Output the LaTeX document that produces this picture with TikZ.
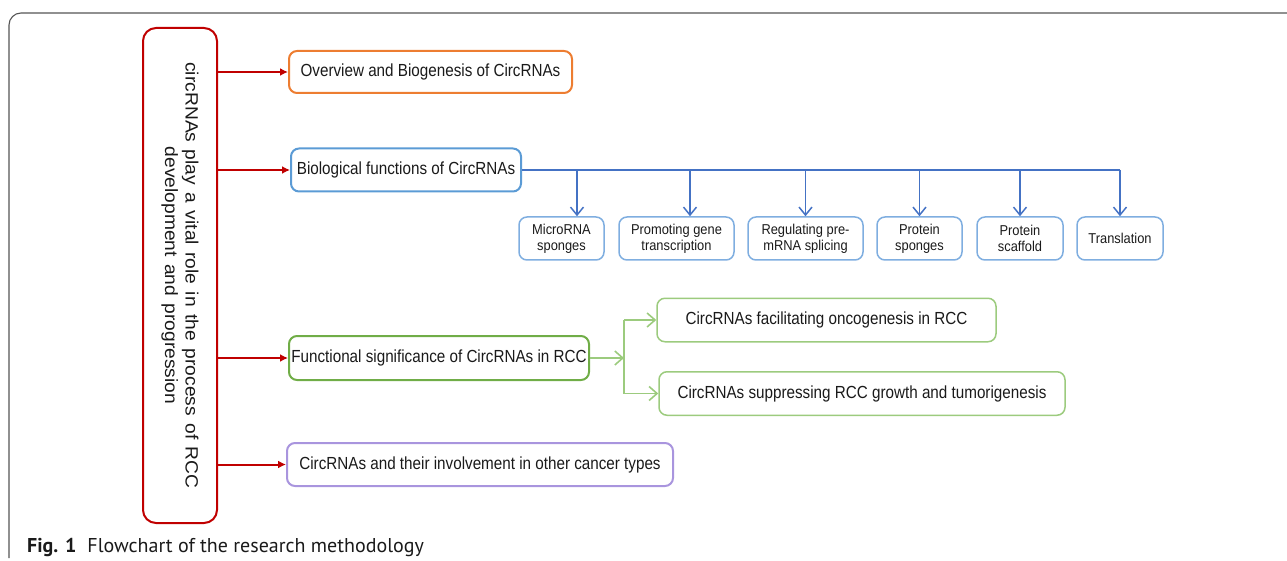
\documentclass[tikz,border=0pt]{standalone}
\usepackage{fontspec}
\setmainfont{Liberation Sans}
\newfontfamily\narrowfont[FakeStretch=0.87]{Liberation Sans}
\newfontfamily\smallfont[FakeStretch=0.9]{Liberation Sans}
\newfontfamily\widefont[FakeStretch=1.08,WordSpace=1.4]{Liberation Sans}
\newfontfamily\capfont{PT Sans}
\usetikzlibrary{arrows.meta}
\definecolor{cred}{HTML}{C00000}
\definecolor{corange}{HTML}{ED7D31}
\definecolor{cblue}{HTML}{5B9BD5}
\definecolor{clblue}{HTML}{7FAEE0}
\definecolor{carrblue}{HTML}{4472C4}
\definecolor{cgreen}{HTML}{70AD47}
\definecolor{clgreen}{HTML}{9CCB7E}
\definecolor{cpurple}{HTML}{A995DE}
\definecolor{cframe}{HTML}{555555}
\definecolor{ctext}{HTML}{1A1A1A}
\tikzset{
  bigbox/.style={draw, line width=2pt, rounded corners=8pt, inner sep=0pt, text=ctext,
    font=\narrowfont\fontsize{17.5}{19}\selectfont, align=center},
  smallbox/.style={draw=clblue, line width=1.5pt, rounded corners=8pt, inner sep=0pt, text=ctext,
    minimum height=43pt, font=\smallfont\fontsize{14.3}{16}\selectfont, align=center},
  subbox/.style={draw=clgreen, line width=1.5pt, rounded corners=8pt, inner sep=0pt, text=ctext,
    minimum height=43.5pt, font=\narrowfont\fontsize{17.5}{19}\selectfont, align=center},
  mainbox/.style={draw=cred, line width=2pt, rounded corners=13pt, inner sep=0pt, text=ctext,
    font=\widefont\fontsize{17.8}{20.5}\selectfont, align=center},
  redarr/.style={draw=cred, line width=2pt, -{Latex[length=8pt,width=8pt]}},
  bluearr/.style={draw=carrblue, line width=1.5pt, -{Straight Barb[length=8pt,width=13pt]}},
  blueline/.style={draw=carrblue, line width=1.5pt},
  greenarr/.style={draw=clgreen, line width=1.6pt, -{Straight Barb[length=8pt,width=14pt]}},
  greenline/.style={draw=clgreen, line width=1.6pt},
}
\begin{document}
\begin{tikzpicture}[x=1pt,y=-1pt]
\useasboundingbox (0,0) rectangle (1287,561);
% outer frame
\draw[cframe, line width=1.1pt, rounded corners=12pt] (9,558) -- (9,13) -- (1287,13);

% main vertical box
\node[mainbox, rotate=-90, minimum width=495pt, minimum height=74pt] (main) at (180,275.5)
  {circRNAs play a vital role in the process of RCC\\development and progression};

% first level boxes
\node[bigbox, draw=corange, minimum width=283pt, minimum height=42pt] (ov) at (430.5,72)
  {Overview and Biogenesis of CircRNAs};
\node[bigbox, draw=cblue, minimum width=230pt, minimum height=43pt] (bio) at (406,170)
  {Biological functions of CircRNAs};
\node[bigbox, draw=cgreen, minimum width=300pt, minimum height=44pt] (fs) at (439,358)
  {Functional significance of CircRNAs in RCC};
\node[bigbox, draw=cpurple, minimum width=386pt, minimum height=43pt] (oth) at (480,464.5)
  {CircRNAs and their involvement in other cancer types};

% red connectors
\draw[redarr] (main.north |- ov.west) -- (ov.west);
\draw[redarr] (main.north |- bio.west) -- (bio.west);
\draw[redarr] (main.north |- fs.west) -- (fs.west);
\draw[redarr] (main.north |- oth.west) -- (oth.west);

% biological functions children
\node[smallbox, minimum width=85pt] (mi) at (561.5,238.5) {MicroRNA\\sponges};
\node[smallbox, minimum width=115pt] (pg) at (676.5,238.5) {Promoting gene\\transcription};
\node[smallbox, minimum width=115pt] (rp) at (805.5,238.5) {Regulating pre-\\mRNA splicing};
\node[smallbox, minimum width=85pt] (ps) at (919.5,238.5) {Protein\\sponges};
\node[smallbox, minimum width=86pt] (psc) at (1020,238.5) {Protein\\scaffold};
\node[smallbox, minimum width=86pt] (tr) at (1120,238.5) {Translation};

\coordinate (miin) at ([xshift=15.5pt]mi.north);
\coordinate (pgin) at ([xshift=13.5pt]pg.north);
\draw[blueline] (bio.east) -- (bio.east -| tr.north);
\draw[bluearr] (bio.east -| miin) -- (miin);
\draw[bluearr] (bio.east -| pgin) -- (pgin);
\draw[bluearr] (bio.east -| rp.north) -- (rp.north);
\draw[bluearr] (bio.east -| ps.north) -- (ps.north);
\draw[bluearr] (bio.east -| psc.north) -- (psc.north);
\draw[bluearr] (bio.east -| tr.north) -- (tr.north);

% RCC children
\node[subbox, minimum width=339pt] (fa) at (826.5,320) {CircRNAs facilitating oncogenesis in RCC};
\node[subbox, minimum width=406pt] (fsup) at (862,393.5) {CircRNAs suppressing RCC growth and tumorigenesis};
\coordinate (gj) at (624,358);
\draw[greenarr] (fs.east) -- (gj);
\draw[greenline] (gj |- fa.west) -- (gj |- fsup.west);
\draw[greenarr] (gj |- fa.west) -- (fa.west);
\draw[greenarr] (gj |- fsup.west) -- (fsup.west);

% caption
\node[anchor=base west, inner sep=0pt, text=ctext, font=\capfont\fontsize{20}{22}\selectfont] (cap) at (27,552)
  {\textbf{Fig. 1}\hspace{11pt}Flowchart of the research methodology};
\end{tikzpicture}
\end{document}
